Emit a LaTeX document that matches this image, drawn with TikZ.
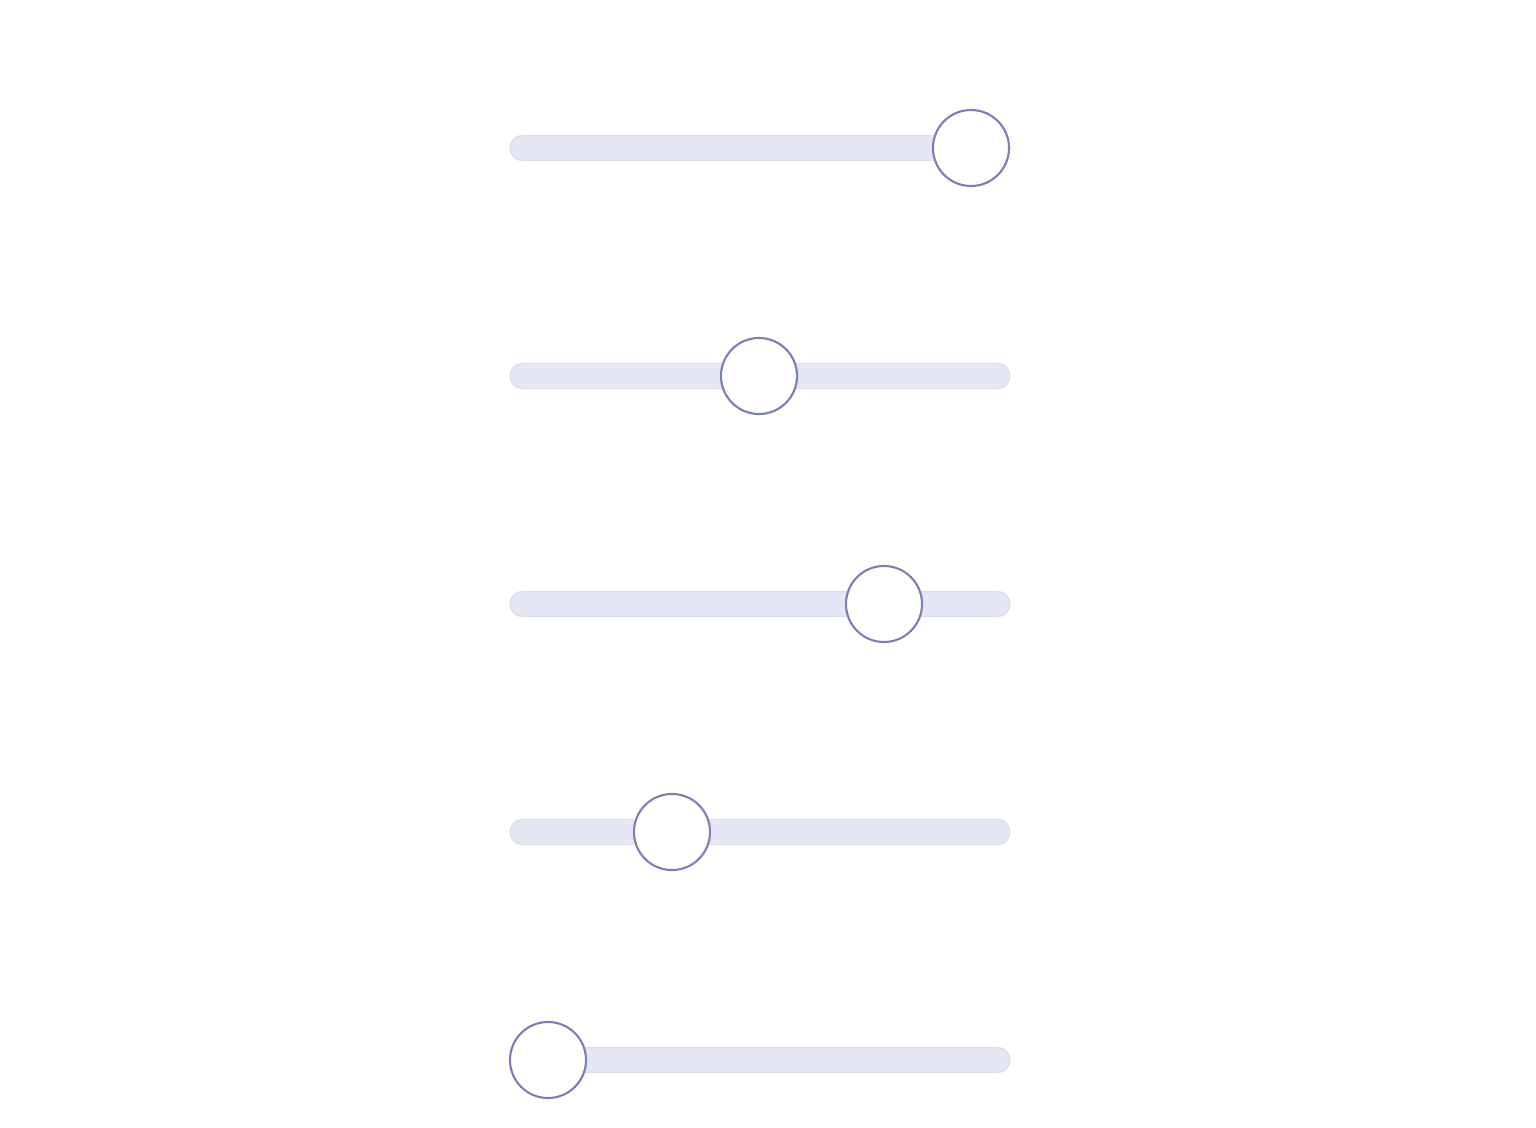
\documentclass[tikz,border=0pt]{standalone}
\usepackage{xcolor}
\definecolor{trk}{HTML}{E4E6F3}
\definecolor{trkline}{HTML}{DCDEEA}
\definecolor{knb}{HTML}{7A80B0}

\begin{document}
\begin{tikzpicture}[
            x = 0.01cm, y = -0.01cm, % pixel grid
            track/.style = {draw = trkline, fill = trk, line width = 0.4pt, rounded corners = 0.125cm},
            knob/.style = {circle, draw = knb, fill = white, line width = 0.6pt, minimum size = 0.76cm, inner sep = 0pt}
  ]
        \useasboundingbox (0, 0) rectangle (1536, 1127);

        % tracks and knobs
        \foreach \y/\k [count=\i] in {148/971, 376/759, 604/884, 832/672, 1060/548} {
            \draw[track] (510, \y-12.5) rectangle (1010, \y+12.5);
            \node[knob] (knob\i) at (\k, \y) {};
        }
\end{tikzpicture}
\end{document}
